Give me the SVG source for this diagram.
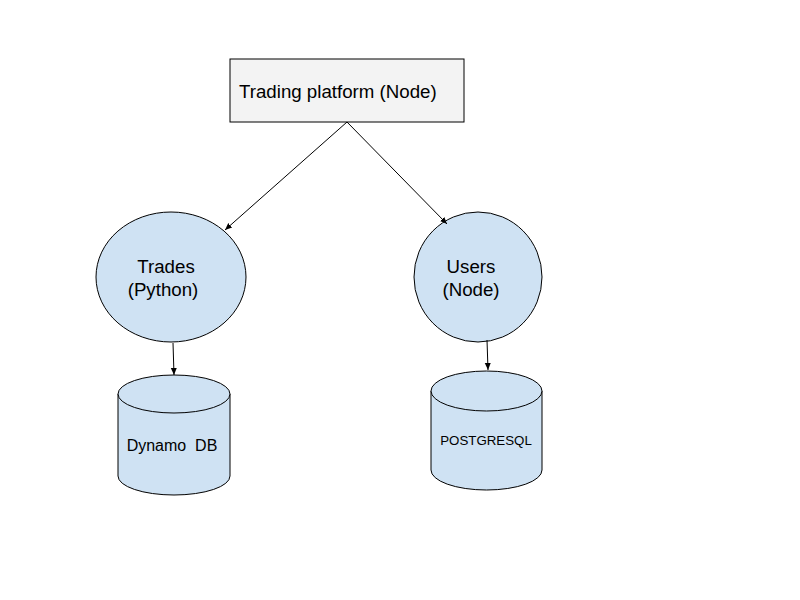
<svg xmlns="http://www.w3.org/2000/svg" width="800" height="600" viewBox="0 0 800 600">
<style>
.shape{fill:#cfe2f3;stroke:#000;stroke-width:1}
.lbl{font-family:"Liberation Sans",Arial,sans-serif;fill:#000}
.conn{stroke:#000;stroke-width:1;fill:none;marker-end:url(#ah)}
</style>
<defs>
<marker id="ah" markerWidth="8" markerHeight="8" refX="7" refY="4" orient="auto" markerUnits="userSpaceOnUse">
<path d="M0,1 L7,4 L0,7 Z" fill="#000"/>
</marker>
</defs>
<rect width="800" height="600" fill="#fff"/>
<g id="trading">
<rect x="230" y="59" width="234" height="63" fill="#f3f3f3" stroke="#000"/>
<text class="lbl" x="239" y="98" font-size="18.7">Trading platform (Node)</text>
</g>
<g id="trades">
<ellipse class="shape" cx="171" cy="277" rx="75" ry="65"/>
<text class="lbl" x="166" y="273" font-size="18.7" text-anchor="middle">Trades</text>
<text class="lbl" x="163" y="296" font-size="18.7" text-anchor="middle">(Python)</text>
</g>
<g id="users">
<ellipse class="shape" cx="478" cy="277" rx="64" ry="65"/>
<text class="lbl" x="471" y="273" font-size="18.7" text-anchor="middle">Users</text>
<text class="lbl" x="471" y="296" font-size="18.7" text-anchor="middle">(Node)</text>
</g>
<g id="dynamo">
<path class="shape" d="M118,394 L118,476 A56,19 0 0 0 230,476 L230,394 A56,19 0 0 0 118,394 Z"/>
<path class="shape" d="M118,394 A56,19 0 0 0 230,394" fill="none"/>
<text class="lbl" x="172" y="451" font-size="16" text-anchor="middle" xml:space="preserve">Dynamo  DB</text>
</g>
<g id="postgres">
<path class="shape" d="M431,391 L431,470 A55.5,20 0 0 0 542,470 L542,391 A55.5,20 0 0 0 431,391 Z"/>
<path class="shape" d="M431,391 A55.5,20 0 0 0 542,391" fill="none"/>
<text class="lbl" x="486" y="445" font-size="13.3" text-anchor="middle">POSTGRESQL</text>
</g>
<g id="connectors">
<line class="conn" x1="347" y1="122" x2="225" y2="230"/>
<line class="conn" x1="347" y1="122" x2="447" y2="224"/>
<line class="conn" x1="173" y1="343" x2="174" y2="375"/>
<line class="conn" x1="487" y1="340" x2="488" y2="370"/>
</g>
</svg>
